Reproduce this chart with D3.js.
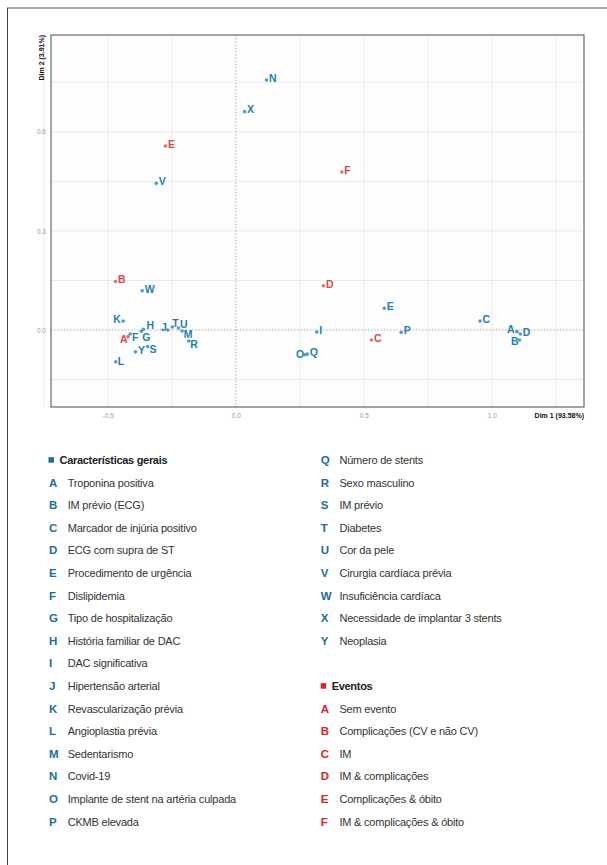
<!DOCTYPE html>
<html>
<head>
<meta charset="utf-8">
<script src="https://cdn.jsdelivr.net/npm/d3@7"></script>
<style>
  body { margin: 0; background: #fff; }
  svg { display: block; font-family: "Liberation Sans", Arial, sans-serif; }
</style>
</head>
<body>
<div id="chart"></div>
<script>
// variáveis (características gerais)
const varCodes = ["A","B","C","D","E","F","G","H","I","J","K","L","M","N","O","P","Q","R","S","T","U","V","W","X","Y"];
const varNames = [
  "Troponina positiva", "IM prévio (ECG)", "Marcador de injúria positivo", "ECG com supra de ST",
  "Procedimento de urgência", "Dislipidemia", "Tipo de hospitalização", "História familiar de DAC",
  "DAC significativa", "Hipertensão arterial", "Revascularização prévia", "Angioplastia prévia",
  "Sedentarismo", "Covid-19", "Implante de stent na artéria culpada", "CKMB elevada",
  "Número de stents", "Sexo masculino", "IM prévio", "Diabetes", "Cor da pele",
  "Cirurgia cardíaca prévia", "Insuficiência cardíaca", "Necessidade de implantar 3 stents", "Neoplasia"
];
const varDim1 = [1.098, 1.108, 0.954, 1.111, 0.580, -0.413, -0.369, -0.361, 0.316, -0.266, -0.440, -0.469,
  -0.210, 0.120, 0.271, 0.646, 0.279, -0.184, -0.345, -0.248, -0.224, -0.311, -0.366, 0.034, -0.392];
const varDim2 = [-0.005, -0.030, 0.027, -0.012, 0.066, -0.012, -0.004, 0.002, -0.006, 0.000, 0.027, -0.096,
  -0.003, 0.757, -0.075, -0.007, -0.073, -0.033, -0.050, 0.009, 0.006, 0.444, 0.119, 0.661, -0.066];

// eventos
const evtCodes = ["A","B","C","D","E","F"];
const evtNames = ["Sem evento", "Complicações (CV e não CV)", "IM", "IM & complicações",
  "Complicações & óbito", "IM & complicações & óbito"];
const evtDim1 = [-0.421, -0.470, 0.530, 0.342, -0.275, 0.414];
const evtDim2 = [-0.020, 0.147, -0.030, 0.134, 0.557, 0.478];

const xTicks = [-0.5, 0, 0.5, 1.0];
const yTicks = [0, 0.3, 0.6];
const xGrid = [-0.75, -0.5, -0.25, 0, 0.25, 0.5, 0.75, 1.0, 1.25];
const yGrid = [-0.15, 0, 0.15, 0.3, 0.45, 0.6, 0.75];
const xTitle = "Dim 1 (93.58%)", yTitle = "Dim 2 (3.91%)";
const legendTitles = ["Características gerais", "Eventos"];

(() => {
    const W = 607, H = 865;
    const plot = { left: 51, right: 584, top: 35, bottom: 407 };
    const blue = "#1f80ab", blueDot = "#4f9dc2", blueLegend = "#1a6e98";
    const red = "#e0464b", redDot = "#e57074", redLegend = "#d9222e";

    // deslocamento dos rótulos (estilo repel)
    const nudge = {
        "v:K": ["end", -2.3, -2], "v:H": ["start", 3, -4], "v:G": ["start", 1, 5.5],
        "v:F": ["start", 2, 2.8], "e:A": ["end", -0.5, 2.8], "v:J": ["end", -1, -2.5],
        "v:T": ["start", 0, -3.5], "v:U": ["start", 1.4, -3.8], "v:M": ["start", 1.7, 3.3],
        "v:R": ["start", 1.6, 3.2], "v:S": ["start", 2, 3.1], "v:L": ["start", 2, -1],
        "v:O": ["end", -1, -0.7], "v:A": ["end", -2.4, -2.4], "v:B": ["end", -1, 1.7]
    };

    const points = [
        ...varCodes.map((c, i) => ({ key: "v:" + c, code: c, x: varDim1[i], y: varDim2[i], grp: "v" })),
        ...evtCodes.map((c, i) => ({ key: "e:" + c, code: c, x: evtDim1[i], y: evtDim2[i], grp: "e" }))
    ];

    const svg = d3.select("#chart").append("svg")
        .attr("width", W).attr("height", H);

    // moldura da página
    svg.append("line").attr("x1", 7).attr("x2", W).attr("y1", 8).attr("y2", 8)
        .attr("stroke", "#8a8a8a").attr("stroke-width", 1.5);
    svg.append("line").attr("x1", 7.5).attr("x2", 7.5).attr("y1", 8).attr("y2", H)
        .attr("stroke", "#444").attr("stroke-width", 1);

    const x = d3.scaleLinear().domain([-0.722, 1.360]).range([plot.left, plot.right]);
    const y = d3.scaleLinear().domain([-0.233, 0.893]).range([plot.bottom, plot.top]);

    svg.append("rect")
        .attr("x", plot.left).attr("y", plot.top)
        .attr("width", plot.right - plot.left).attr("height", plot.bottom - plot.top)
        .attr("fill", "#fdfdfd");

    const grid = svg.append("g");
    grid.selectAll(".gx").data(xGrid.filter(d => d !== 0)).enter().append("line")
        .attr("x1", d => x(d)).attr("x2", d => x(d))
        .attr("y1", plot.top).attr("y2", plot.bottom)
        .attr("stroke", "#ebebeb").attr("stroke-width", 1);
    grid.selectAll(".gy").data(yGrid.filter(d => d !== 0)).enter().append("line")
        .attr("y1", d => y(d)).attr("y2", d => y(d))
        .attr("x1", plot.left).attr("x2", plot.right)
        .attr("stroke", "#ebebeb").attr("stroke-width", 1);
    grid.append("line").attr("x1", x(0)).attr("x2", x(0)).attr("y1", plot.top).attr("y2", plot.bottom)
        .attr("stroke", "#888").attr("stroke-width", 0.8).attr("stroke-dasharray", "1.2,2");
    grid.append("line").attr("y1", y(0)).attr("y2", y(0)).attr("x1", plot.left).attr("x2", plot.right)
        .attr("stroke", "#888").attr("stroke-width", 0.8).attr("stroke-dasharray", "1.2,2");

    svg.append("rect")
        .attr("x", plot.left).attr("y", plot.top)
        .attr("width", plot.right - plot.left).attr("height", plot.bottom - plot.top)
        .attr("fill", "none").attr("stroke", "#4a4a4a").attr("stroke-width", 1);

    // eixos
    const fmt = d => d.toFixed(1);
    const ax = svg.append("g")
        .attr("transform", `translate(0,${plot.bottom})`)
        .call(d3.axisBottom(x).tickValues(xTicks).tickFormat(fmt).tickSize(0).tickPadding(6));
    const ay = svg.append("g")
        .attr("transform", `translate(${plot.left},0)`)
        .call(d3.axisLeft(y).tickValues(yTicks).tickFormat(fmt).tickSize(0).tickPadding(5));
    [ax, ay].forEach(a => {
        a.select(".domain").remove();
        a.selectAll("text").attr("fill", "#9a9a9a").style("font-size", "6.5px");
    });

    svg.append("text")
        .attr("x", plot.right).attr("y", 417.5)
        .attr("text-anchor", "end")
        .style("font-size", "7px").style("font-weight", "bold").attr("fill", "#111")
        .text(xTitle);
    svg.append("text")
        .attr("transform", `translate(43.5,${plot.top}) rotate(-90)`)
        .attr("text-anchor", "end")
        .style("font-size", "7px").style("font-weight", "bold").attr("fill", "#111")
        .text(yTitle);

    // pontos e rótulos
    const pts = svg.append("g");
    pts.selectAll("circle").data(points).enter().append("circle")
        .attr("cx", d => x(d.x)).attr("cy", d => y(d.y))
        .attr("r", 1.8)
        .attr("fill", d => d.grp === "v" ? blueDot : redDot);

    pts.selectAll("text").data(points).enter().append("text")
        .each(function (d) {
            const n = nudge[d.key] || ["start", 2.5, -2];
            d3.select(this)
                .attr("text-anchor", n[0])
                .attr("x", x(d.x) + n[1])
                .attr("y", y(d.y) + n[2] + 3.8);
        })
        .style("font-size", "10.5px").style("font-weight", "bold")
        .attr("fill", d => d.grp === "v" ? blue : red)
        .text(d => d.code);

    // legenda
    const rowY = i => 460 + i * 22.6;
    const leg = svg.append("g");
    const addTitle = (lx, row, label, color) => {
        leg.append("rect").attr("x", lx).attr("y", rowY(row) - 2.8)
            .attr("width", 5.5).attr("height", 5.5).attr("fill", color);
        leg.append("text").attr("x", lx + 11).attr("y", rowY(row) + 3.9)
            .style("font-size", "11px").style("font-weight", "bold")
            .style("letter-spacing", "-0.3px").attr("fill", "#222")
            .text(label);
    };
    const addItem = (lx, row, code, name, color) => {
        leg.append("text").attr("x", lx).attr("y", rowY(row) + 4)
            .style("font-size", "11.5px").style("font-weight", "bold").attr("fill", color)
            .text(code);
        leg.append("text").attr("x", lx + 18.7).attr("y", rowY(row) + 3.9)
            .style("font-size", "11px").style("letter-spacing", "-0.2px").attr("fill", "#333")
            .text(name);
    };

    const colL = 49, colR = 320.7;
    addTitle(colL - 0.5, 0, legendTitles[0], blueLegend);
    varCodes.forEach((c, i) => {
        if (i < 16) addItem(colL, i + 1, c, varNames[i], blueLegend);
        else addItem(colR, i - 16, c, varNames[i], blueLegend);
    });
    addTitle(colR, 10, legendTitles[1], redLegend);
    evtCodes.forEach((c, i) => addItem(colR, 11 + i, c, evtNames[i], redLegend));
})();
</script>
</body>
</html>
